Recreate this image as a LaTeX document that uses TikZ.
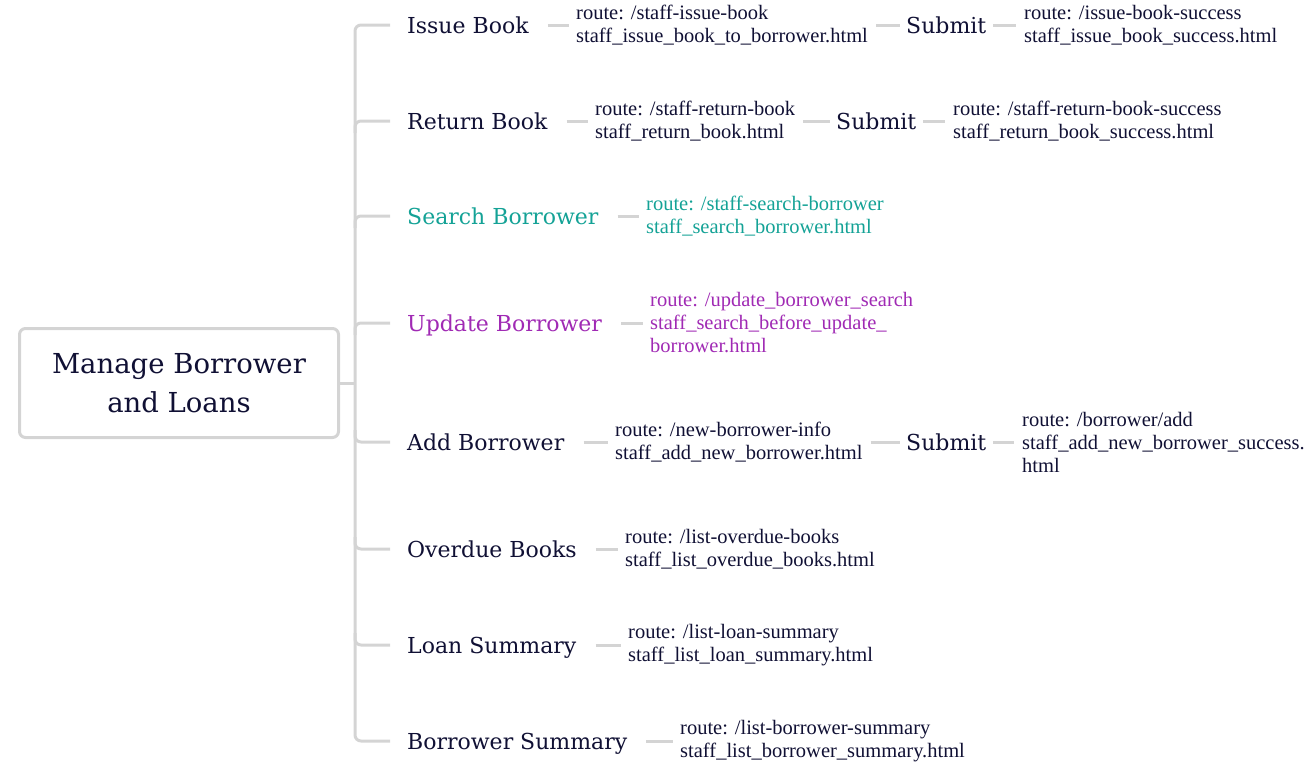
\documentclass[tikz,border=0pt]{standalone}
\usepackage{fontspec}
\setmainfont{DejaVu Serif}
\newfontfamily\routefont{Liberation Serif}
\usetikzlibrary{positioning}
\definecolor{ink}{RGB}{16,16,52}
\definecolor{searchcol}{RGB}{20,162,150}
\definecolor{updatecol}{RGB}{160,42,180}
\definecolor{wirecol}{RGB}{212,212,212}
\newcommand{\linkedge}[4]{
  \draw[wire] ([xshift=#3]#1.east) -- ([xshift=-#4]#1.east -| #2.west);
}
\tikzstyle{root}=[draw=wirecol,line width=3pt,rounded corners=6pt,minimum width=319pt,minimum height=109pt,align=center,text=ink,font=\fontsize{27.5}{39}\selectfont]
\tikzstyle{task}=[anchor=west,inner sep=0pt,text height=16pt,text depth=0pt,text=ink,font=\fontsize{22}{26}\selectfont]
\tikzstyle{route}=[anchor=west,inner sep=0pt,align=left,text=ink,font=\routefont\fontsize{20.5}{23}\selectfont]
\tikzset{wire/.style={draw=wirecol,line width=3pt}}
\tikzset{y=-1pt}
\tikzset{x=1pt}

\begin{document}
\begin{tikzpicture}
  \useasboundingbox (0,0) rectangle (1314,769);
  \draw (179,383) node[root] (M) {Manage Borrower\\and Loans};

  %% trunk
  \draw[wire] (M.east) -- (355,383);
  \draw[wire,rounded corners=6pt] (390,25) -- (355,25) -- (355,741) -- (390,741);
  \foreach \y in {121,216,323}
    \draw[wire,rounded corners=6pt] (355,{\y+12}) |- (390,\y);
  \foreach \y in {442,549,645}
    \draw[wire,rounded corners=6pt] (355,{\y-12}) |- (390,\y);

  %% tasks
  \draw (407,25) node[task] (B1) {Issue Book};
  \draw (407,121) node[task] (B2) {Return Book};
  \draw (407,216) node[task,text=searchcol] (B3) {Search Borrower};
  \draw (407,323) node[task,text=updatecol] (B4) {Update Borrower};
  \draw (407,442) node[task] (B5) {Add Borrower};
  \draw (407,549) node[task] (B6) {Overdue Books};
  \draw (407,645) node[task] (B7) {Loan Summary};
  \draw (407,741) node[task] (B8) {Borrower Summary};

  %% routes
  \draw (576,25) node[route] (R1) {route: /staff-issue-book\\staff\_issue\_book\_to\_borrower.html};
  \draw (595,121) node[route] (R2) {route: /staff-return-book\\staff\_return\_book.html};
  \draw (646,216) node[route,text=searchcol] (R3) {route: /staff-search-borrower\\staff\_search\_borrower.html};
  \draw (650,323) node[route,text=updatecol] (R4) {route: /update\_borrower\_search\\staff\_search\_before\_update\_\\borrower.html};
  \draw (615,442) node[route] (R5) {route: /new-borrower-info\\staff\_add\_new\_borrower.html};
  \draw (625,549) node[route] (R6) {route: /list-overdue-books\\staff\_list\_overdue\_books.html};
  \draw (628,645) node[route] (R7) {route: /list-loan-summary\\staff\_list\_loan\_summary.html};
  \draw (680,741) node[route] (R8) {route: /list-borrower-summary\\staff\_list\_borrower\_summary.html};

  %% submit steps
  \draw (906,25) node[task] (S1) {Submit};
  \draw (836,121) node[task] (S2) {Submit};
  \draw (906,442) node[task] (S5) {Submit};
  \draw (1024,25) node[route] (T1) {route: /issue-book-success\\staff\_issue\_book\_success.html};
  \draw (953,121) node[route] (T2) {route: /staff-return-book-success\\staff\_return\_book\_success.html};
  \draw (1022,442) node[route] (T5) {route: /borrower/add\\staff\_add\_new\_borrower\_success.\\html};

  %% connectors
  \foreach \i in {1,...,8}{
    \linkedge{B\i}{R\i}{19pt}{7pt}
  }
  \linkedge{R1}{S1}{8pt}{6pt}
  \linkedge{R2}{S2}{8pt}{6pt}
  \linkedge{R5}{S5}{8pt}{6pt}
  \linkedge{S1}{T1}{7pt}{8pt}
  \linkedge{S2}{T2}{7pt}{8pt}
  \linkedge{S5}{T5}{7pt}{8pt}
\end{tikzpicture}
\end{document}
